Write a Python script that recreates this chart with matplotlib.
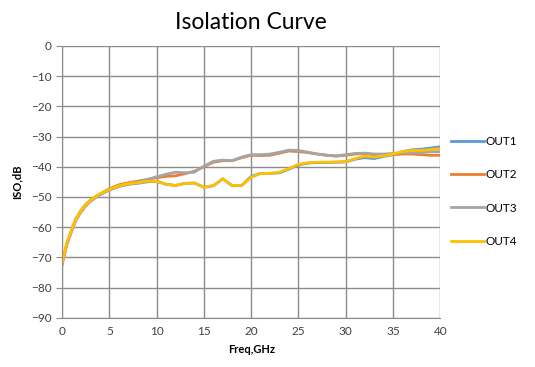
import matplotlib
matplotlib.use("Agg")
import matplotlib.pyplot as plt

plt.rcParams['font.family'] = ['Lato', 'DejaVu Sans']

freq = [0, 0.5, 1, 1.5, 2, 2.5, 3, 3.5, 4, 5, 6, 7, 8, 9, 10, 11, 12, 13, 14, 15,
        16, 17, 18, 19, 20, 21, 22, 23, 24, 25, 26, 27, 28, 29, 30, 31, 32, 33, 34,
        35, 36, 37, 38, 39, 40]

out1 = [-72, -65.5, -61.2, -57.2, -54.7, -52.8, -51.3, -50.2, -49.2, -47.7, -46.5,
        -45.8, -45.5, -45, -44.8, -45.8, -46.2, -45.5, -45.4, -46.8, -46.3, -44,
        -46.3, -46.2, -43.2, -42.2, -42.2, -42, -40.8, -39.4, -38.8, -38.6, -38.6,
        -38.5, -38.4, -37.5, -37, -37.3, -36.6, -36, -35, -34.4, -34.2, -33.8, -33.4]
out2 = [-72.5, -65.5, -61, -57, -54.5, -52.5, -51, -50, -49, -47.3, -46, -45.3,
        -44.8, -44.2, -43.6, -43.2, -43, -42.3, -41.5, -40, -38.5, -38, -38, -37,
        -36.2, -36.3, -36.2, -35.5, -34.8, -35, -35.3, -35.8, -36.2, -36.5, -36.2,
        -35.8, -35.7, -36, -36.2, -36, -35.8, -35.8, -36, -36.2, -36.2]
out3 = [-72, -65.8, -61.5, -57.5, -55, -53, -51.5, -50.3, -49.3, -47.6, -46.5,
        -45.8, -45, -44.3, -43.3, -42.5, -41.8, -42, -41.8, -39.8, -38.2, -37.8,
        -38, -36.8, -36, -36, -35.8, -35.2, -34.5, -34.6, -35.2, -35.8, -36.2,
        -36.4, -36, -35.6, -35.5, -35.8, -35.8, -35.6, -35.4, -35.4, -35.2, -35, -35]
out4 = [-72, -65.3, -61, -57, -54.5, -52.6, -51.1, -50, -49, -47.5, -46.3, -45.6,
        -45.3, -44.8, -44.8, -45.8, -46.2, -45.5, -45.4, -46.8, -46.2, -44, -46.2,
        -46.2, -43.5, -42.2, -42.2, -41.8, -40.6, -39.2, -38.7, -38.5, -38.5, -38.4,
        -38.3, -37.3, -36.5, -36.8, -36.4, -35.8, -35, -34.6, -34.6, -34.3, -34]

series = [("OUT1", out1, "#5B9BD5"), ("OUT2", out2, "#ED7D31"),
          ("OUT3", out3, "#A5A5A5"), ("OUT4", out4, "#FFC000")]

fig = plt.figure(figsize=(5.35, 3.67), dpi=100)
ax = fig.add_axes([0.116, 0.134, 0.707, 0.741])

for name, vals, col in series:
    ax.plot(freq, vals, color=col, lw=2, label=name)

ax.set_xlim(0, 40)
ax.set_ylim(-90, 0)
ax.set_xticks(range(0, 41, 5))
ax.set_yticks(range(-90, 1, 10))
ax.grid(True, color="#8c8c8c", lw=1)
ax.set_axisbelow(True)
for s in ["top", "right"]:
    ax.spines[s].set_visible(False)
for s in ["left", "bottom"]:
    ax.spines[s].set_color("#8c8c8c")
ax.tick_params(axis="y", length=4, color="#8c8c8c", labelsize=8.5, labelcolor="#404040")
ax.tick_params(axis="x", length=0, pad=6, labelsize=8.5, labelcolor="#404040")

ax.set_title("Isolation Curve", fontsize=16.5, pad=12)
ax.set_xlabel("Freq,GHz", fontsize=8, fontweight="bold", labelpad=5)
ax.set_ylabel("ISO,dB", fontsize=8, fontweight="bold", labelpad=6)

ax.legend(loc="center left", bbox_to_anchor=(1.0, 0.465), frameon=False,
          fontsize=8.5, handlelength=2.8, handletextpad=0.1, labelspacing=1.9)

fig.savefig("out.png", dpi=100)
